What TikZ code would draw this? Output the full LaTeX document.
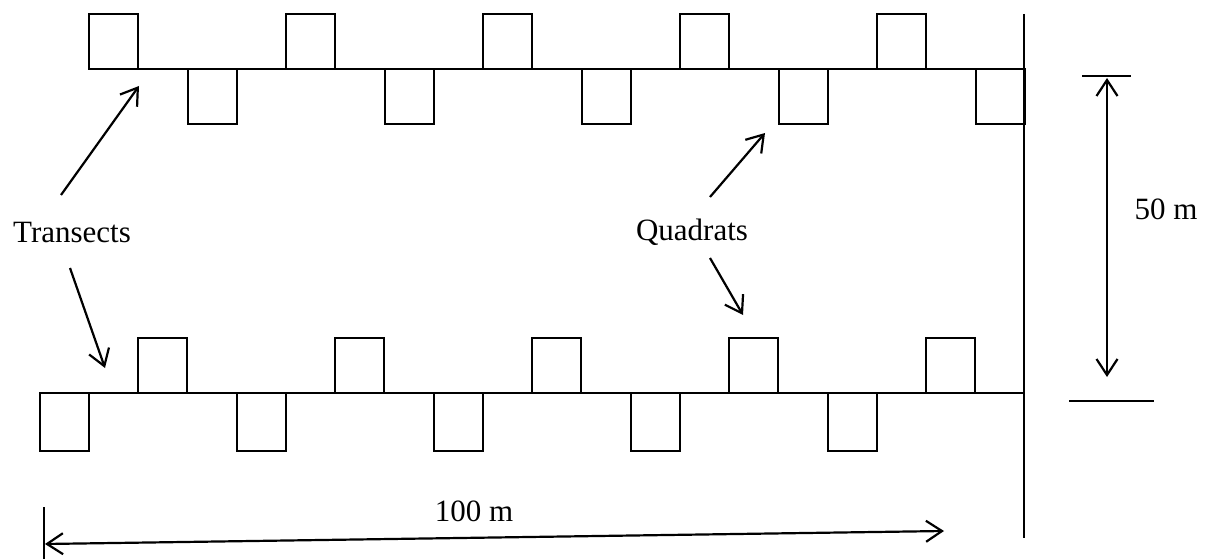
\documentclass[tikz,border=0pt]{standalone}
\usepackage{fontspec}
\setmainfont{Liberation Serif}
\usetikzlibrary{positioning}
\usetikzlibrary{arrows.meta}

\begin{document}
\begin{tikzpicture}[x=1pt, y=-1pt, line width=2.2pt,
    >={Straight Barb[length=16pt,width=21pt]},
    quad/.style={draw, inner sep=0pt, outer sep=0pt, minimum width=49pt, minimum height=55pt},
    lbl/.style={font=\fontsize{31}{37}\selectfont, inner sep=0pt, anchor=base}]
    \useasboundingbox (0,0) rectangle (1208,559);

    % transects and edge
    \coordinate (t1l) at (89,69);
    \coordinate (t1r) at (1024,69);
    \coordinate (t2l) at (40,393);
    \coordinate (t2r) at (1024,393);
    \coordinate (etop) at (1024,14);
    \coordinate (ebot) at (1024,538);
    \draw (t1l) -- (t1r);
    \draw (t2l) -- (t2r);
    \draw (etop) -- (ebot);

    % quadrats
    \foreach \i in {0,...,4} {
        \node[quad, anchor=south west] (qa\i) at (89+197*\i,69) {};
        \node[quad, anchor=north west] (qb\i) at (188+197*\i,69) {};
        \node[quad, anchor=south west] (qc\i) at (138+197*\i,393) {};
        \node[quad, anchor=north west, minimum height=58pt] (qd\i) at (40+197*\i,393) {};
    }

    % labels
    \node[lbl] (tr) at (72,242) {Transects};
    \node[lbl] (qu) at (692,240) {Quadrats};
    \node[lbl] (fifty) at (1166,219) {50 m};
    \node[lbl] (hund) at (474,521) {100 m};

    % pointers
    \coordinate (tr-a) at (61,195);
    \coordinate (tr-b) at (139,86);
    \coordinate (tr-c) at (70,268);
    \coordinate (tr-d) at (105,368);
    \coordinate (qu-a) at (710,197);
    \coordinate (qu-b) at (765,133);
    \coordinate (qu-c) at (710,258);
    \coordinate (qu-d) at (743,315);
    \draw[->] (tr-a) -- (tr-b);
    \draw[->] (tr-c) -- (tr-d);
    \draw[->] (qu-a) -- (qu-b);
    \draw[->] (qu-c) -- (qu-d);

    % dimensions
    \coordinate (w1) at (1082,76);
    \coordinate (w2) at (1131,76);
    \coordinate (w3) at (1069,401);
    \coordinate (w4) at (1154,401);
    \coordinate (wa) at (1107,78);
    \coordinate (wb) at (1107,377);
    \draw (w1) -- (w2);
    \draw (w3) -- (w4);
    \draw[<->] (wa) -- (wb);
    \coordinate (l1) at (44,507);
    \coordinate (l2) at (44,559);
    \coordinate (la) at (45,544);
    \coordinate (lb) at (944,531);
    \draw (l1) -- (l2);
    \draw[<->] (la) -- (lb);
\end{tikzpicture}
\end{document}
